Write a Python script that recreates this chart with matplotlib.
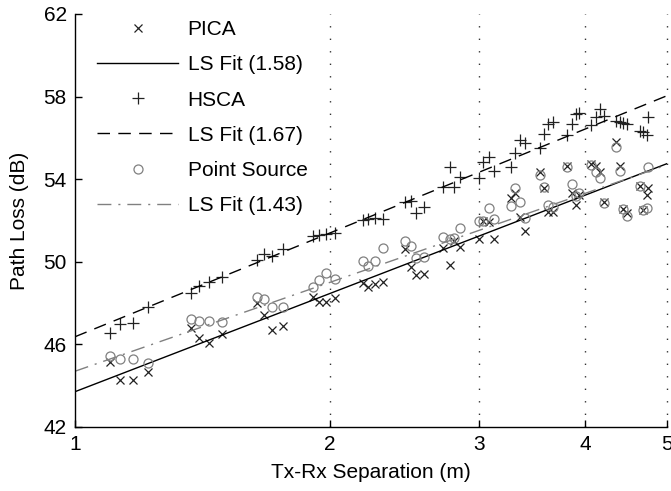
import numpy as np
import matplotlib
matplotlib.use("Agg")
import matplotlib.pyplot as plt
from matplotlib.ticker import FixedLocator, NullLocator, FixedFormatter

# -------------------------------------------------------------------
# DATA
# -------------------------------------------------------------------
# Tx-Rx separation (m), shared by all three measurement sets
dist = [
    1.10, 1.13, 1.17, 1.22,
    1.37, 1.40, 1.44, 1.49,
    1.64, 1.67, 1.71, 1.76,
    1.91, 1.94, 1.98, 2.03,
    2.19, 2.22, 2.26, 2.31,
    2.45, 2.49, 2.53, 2.58,
    2.72, 2.77, 2.80, 2.85,
    3.00, 3.03, 3.08, 3.12,
    3.27, 3.31, 3.35, 3.40,
    3.54, 3.58, 3.62, 3.67,
    3.81, 3.86, 3.90, 3.94,
    4.07, 4.12, 4.17, 4.21,
    4.35, 4.40, 4.44, 4.49,
    4.65, 4.69, 4.73, 4.75,
]

pl_pica = [
    45.16, 44.28, 44.28, 44.65,
    46.78, 46.30, 46.05, 46.50,
    47.99, 47.42, 46.70, 46.91,
    48.31, 48.07, 48.04, 48.26,
    48.99, 48.79, 48.92, 49.04,
    50.61, 49.76, 49.36, 49.41,
    50.65, 49.84, 51.00, 50.70,
    51.09, 51.99, 51.94, 51.09,
    53.07, 53.35, 52.19, 51.51,
    54.36, 53.56, 52.43, 52.43,
    54.64, 53.35, 52.75, 53.23,
    54.74, 54.64, 54.36, 52.88,
    55.82, 54.64, 52.54, 52.35,
    53.67, 52.51, 53.23, 53.56,
]

pl_hsca = [
    46.54, 46.99, 47.02, 47.83,
    48.47, 48.83, 49.04, 49.28,
    50.10, 50.36, 50.30, 50.61,
    51.26, 51.30, 51.33, 51.38,
    52.02, 52.06, 52.11, 52.06,
    52.91, 52.94, 52.38, 52.67,
    53.64, 54.61, 53.64, 54.09,
    54.04, 54.85, 55.06, 54.41,
    54.61, 55.28, 55.90, 55.77,
    55.53, 56.19, 56.67, 56.78,
    56.14, 56.67, 57.16, 57.22,
    56.62, 57.00, 57.38, 57.06,
    56.83, 56.78, 56.74, 56.67,
    56.33, 56.30, 56.14, 57.03,
]

pl_point = [
    45.45, 45.28, 45.28, 45.08,
    47.23, 47.15, 47.15, 47.07,
    48.31, 48.18, 47.83, 47.80,
    48.77, 49.12, 49.47, 49.15,
    50.05, 49.81, 50.05, 50.68,
    51.02, 50.77, 50.17, 50.22,
    51.19, 51.09, 51.14, 51.62,
    51.98, 51.99, 52.59, 52.06,
    52.70, 53.56, 52.91, 52.11,
    54.20, 53.61, 52.75, 52.67,
    54.61, 53.77, 53.19, 53.35,
    54.69, 54.36, 54.04, 52.86,
    55.54, 54.41, 52.54, 52.22,
    53.67, 52.51, 52.59, 54.61,
]

# least-squares fits: PL(d) = PL0 + 10 n log10(d)
fit_names = ["PICA", "HSCA", "Point Source"]
fit_pl0 = [43.71, 46.37, 44.70]
fit_n = [1.58, 1.67, 1.43]

x_ticks = [1, 2, 3, 4, 5]
y_ticks = [42, 46, 50, 54, 58, 62]

# -------------------------------------------------------------------
# PLOT
# -------------------------------------------------------------------
plt.rcParams["font.family"] = ["Liberation Sans", "DejaVu Sans"]
FS = 15

fig = plt.figure(figsize=(6.71, 4.91), dpi=100)
ax = fig.add_axes([75 / 671, 64 / 491, 592 / 671, 413 / 491])
ax.set_xscale("log")

d_fit = np.array([1.0, 5.0])


def fit_line(i):
    return fit_pl0[i] + 10 * fit_n[i] * np.log10(d_fit)


ax.plot(dist, pl_pica, ls="none", marker="x", ms=5.5, mew=0.9,
        color="#222222", label="PICA")
ax.plot(d_fit, fit_line(0), color="black", lw=1.0,
        label=f"LS Fit ({fit_n[0]:.2f})")
ax.plot(dist, pl_hsca, ls="none", marker="+", ms=8, mew=0.9,
        color="#222222", label="HSCA")
ax.plot(d_fit, fit_line(1), color="black", lw=1.0, dashes=(9, 6),
        label=f"LS Fit ({fit_n[1]:.2f})")
ax.plot(dist, pl_point, ls="none", marker="o", ms=6.5, mew=0.9,
        mfc="none", mec="#808080", label="Point Source")
ax.plot(d_fit, fit_line(2), color="#808080", lw=1.0, dashes=(10, 5, 1.5, 5),
        label=f"LS Fit ({fit_n[2]:.2f})")

# dotted x grid (MATLAB style)
for xv in x_ticks[1:]:
    ax.axvline(xv, color="#333333", lw=1.0, ls=(0, (1, 8)), zorder=0,
               clip_on=False)

ax.set_xlim(1, 5)
ax.set_ylim(42, 62)
ax.xaxis.set_major_locator(FixedLocator(x_ticks))
ax.xaxis.set_major_formatter(FixedFormatter([str(t) for t in x_ticks]))
ax.xaxis.set_minor_locator(NullLocator())
ax.set_yticks(y_ticks)

for side in ["top", "right"]:
    ax.spines[side].set_visible(False)
for side in ["left", "bottom"]:
    ax.spines[side].set_linewidth(1.0)

ax.tick_params(direction="in", length=5, width=1.0, labelsize=FS,
               pad=6, colors="black")

ax.set_xlabel("Tx-Rx Separation (m)", fontsize=FS, labelpad=6)
ax.set_ylabel("Path Loss (dB)", fontsize=FS, labelpad=10)

ax.legend(loc="upper left", bbox_to_anchor=(22 / 592, 1 - 6 / 413),
          frameon=False, fontsize=FS, handlelength=3.9, handletextpad=0.45,
          labelspacing=0.78, borderpad=0, borderaxespad=0, numpoints=1)

fig.savefig("out.png", dpi=100)
